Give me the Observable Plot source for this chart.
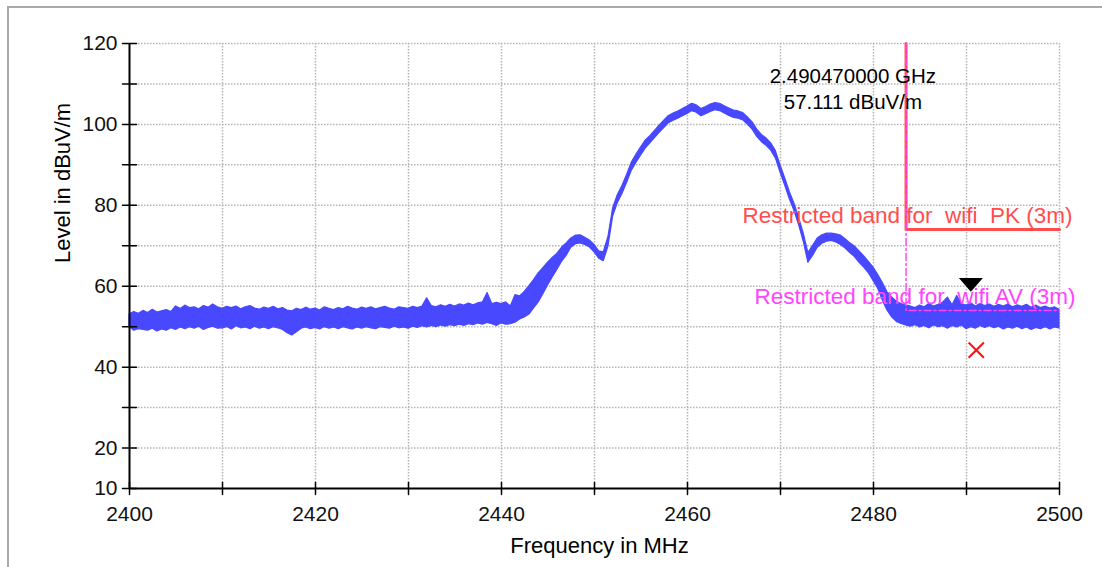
<!DOCTYPE html>
<html><head><meta charset="utf-8">
<script src="https://cdn.jsdelivr.net/npm/d3@7"></script>
<script src="https://cdn.jsdelivr.net/npm/@observablehq/plot@0.6"></script>
<style>
html,body{margin:0;padding:0;background:#fff;}
#wrap{position:relative;width:1102px;height:567px;overflow:hidden;}
#frame{position:absolute;left:7px;top:6px;right:-10px;bottom:-10px;border-left:2px solid #a9a9a9;border-top:2px solid #a9a9a9;}
#chart{position:absolute;left:0;top:0;}
svg text{white-space:pre;}
</style></head><body>
<div id="wrap"><div id="frame"></div><div id="chart"></div></div>
<script>
// ---- data ----
const xDomain = [2400, 2500];
const yDomain = [10, 120];
const xTicks = [2400, 2410, 2420, 2430, 2440, 2450, 2460, 2470, 2480, 2490, 2500];
const xTickLabels = [2400, 2420, 2440, 2460, 2480, 2500];
const yTicks = [10, 20, 30, 40, 50, 60, 70, 80, 90, 100, 110, 120];
const yTickLabels = [10, 20, 40, 60, 80, 100, 120];

const freqStart = 2400, freqStep = 0.5;
// lower / upper envelope of the sweep trace (dBuV/m), every 0.5 MHz
const levelLo = [
  50.0, 49.0, 49.4, 49.2, 49.0, 49.5, 48.8, 49.3, 49.0, 49.6, 49.2, 49.8, 49.4, 49.9, 49.5, 50.0, 49.2, 49.7, 50.0, 49.5,
  49.6, 49.9, 49.3, 50.1, 49.6, 49.8, 49.4, 50.0, 49.5, 49.8, 49.4, 49.9, 49.6, 49.2, 48.4, 47.8, 48.6, 49.5, 49.8, 49.4,
  49.7, 49.3, 49.9, 49.5, 49.8, 49.4, 49.9, 49.6, 49.3, 49.8, 49.5, 49.9, 49.6, 49.4, 49.9, 49.7, 49.5, 50.0, 49.6, 49.8,
  49.5, 50.0, 49.7, 50.1, 49.8, 50.2, 49.9, 50.3, 50.0, 50.4, 50.1, 50.5, 50.2, 50.6, 50.4, 50.8, 50.5, 50.9, 50.6, 50.2,
  50.8, 50.5, 50.6, 51.0, 51.8, 52.3, 53.0, 54.5, 56.0, 58.0, 60.2, 62.2, 64.0, 66.0, 67.5, 69.5, 70.4, 70.6, 70.2, 69.6,
  68.4, 66.8, 66.2, 69.8, 77.2, 80.5, 82.8, 85.5, 88.5, 90.5, 92.3, 94.0, 95.3, 96.6, 97.9, 99.1, 100.3, 100.9, 101.4, 102.0,
  102.6, 103.3, 102.9, 102.0, 102.5, 103.1, 103.5, 103.3, 102.7, 102.1, 101.6, 101.4, 101.0, 99.9, 98.7, 96.9, 95.6, 94.7, 93.5, 91.6,
  88.1, 84.9, 81.5, 78.6, 75.1, 71.0, 65.8, 67.5, 69.5, 70.5, 71.0, 71.2, 70.8, 70.2, 69.3, 68.2, 67.2, 65.8, 64.6, 63.2,
  61.3, 59.4, 56.5, 54.0, 52.3, 51.2, 50.7, 50.3, 50.0, 50.4, 49.8, 50.2, 49.6, 50.3, 49.9, 50.1, 49.5, 50.2, 49.8, 50.3,
  49.4, 49.9, 49.5, 50.2, 49.7, 50.1, 49.6, 50.0, 49.3, 49.8, 49.5, 50.0, 49.4, 49.8, 49.2, 49.7, 49.4, 49.9, 49.3, 49.8, 49.6
];
const levelHi = [
  53.0, 53.6, 53.2, 53.9, 53.4, 54.2, 53.5, 53.8, 54.1, 53.6, 55.0, 54.4, 55.2, 54.6, 54.8, 54.3, 55.1, 54.7, 55.5, 54.8,
  54.4, 54.9, 54.6, 55.0, 54.3, 54.8, 55.1, 54.5, 54.2, 54.7, 54.4, 54.9, 54.3, 54.6, 54.0, 53.8, 54.4, 54.1, 54.7, 54.2,
  54.5, 54.0, 54.8, 54.4, 54.1, 54.6, 54.3, 54.9, 54.5, 54.2, 54.7, 54.4, 54.8, 54.3, 54.6, 54.9, 54.5, 54.2, 54.8, 54.6,
  54.4, 54.9, 54.6, 55.0, 57.0, 55.1, 54.8, 55.3, 54.9, 55.4, 55.0, 55.5, 55.2, 55.7, 55.3, 55.8, 56.0, 58.3, 55.6, 55.9,
  55.6, 56.0, 55.0, 57.8, 57.5, 58.6, 60.0, 61.5, 63.2, 64.5, 65.8, 67.0, 68.0, 69.5, 70.6, 71.8, 72.5, 72.6, 72.0, 71.3,
  70.2, 68.6, 68.4, 72.2, 79.2, 82.5, 84.8, 87.5, 90.5, 92.5, 94.3, 96.0, 97.1, 98.4, 99.7, 100.9, 102.1, 102.7, 103.2, 103.8,
  104.4, 105.1, 104.7, 103.8, 104.3, 104.9, 105.3, 105.1, 104.5, 103.9, 103.4, 103.2, 102.8, 101.7, 100.5, 98.7, 97.4, 96.5, 95.3, 93.4,
  89.9, 86.7, 83.3, 80.4, 76.9, 73.0, 68.2, 70.0, 71.8, 72.6, 73.0, 73.0, 72.8, 72.5, 71.6, 70.6, 69.8, 68.6, 67.4, 66.0,
  64.6, 62.8, 60.8, 58.5, 57.2, 56.2, 55.6, 55.2, 55.0, 54.6, 55.2, 54.8, 55.6, 55.0, 55.4, 56.0, 57.2, 55.3, 57.6, 55.6,
  55.2, 55.8, 55.0, 55.6, 55.1, 55.5, 54.9, 55.4, 55.0, 55.5, 54.8, 55.3, 54.9, 55.4, 54.7, 55.2, 54.6, 55.0, 54.5, 54.8, 54.2
];

const bandEdge = 2483.5;   // MHz, start of restricted band
const pkLimit = 74;        // dBuV/m
const avLimit = 54;        // dBuV/m
const markerFreq = 2490.47;   // MHz
const markerLevel = 57.111;   // dBuV/m
const avReadingFreq = 2491.05;
const avReadingLevel = 44.2;

const pkLabel = "Restricted band for  wifi  PK (3m)";
const avLabel = "Restricted band for  wifi AV (3m)";
const xTitle = "Frequency in MHz";
const yTitle = "Level in dBuV/m";

// ---- build ----
const trace = levelLo.map((lo, i) => ({f: freqStart + i * freqStep, lo, hi: levelHi[i]}));
const pkLine = [{f: bandEdge, v: yDomain[1]}, {f: bandEdge, v: pkLimit}, {f: xDomain[1], v: pkLimit}];
const avLine = [{f: bandEdge, v: yDomain[1]}, {f: bandEdge, v: avLimit}, {f: xDomain[1], v: avLimit}];
const markerText = `${(markerFreq / 1000).toFixed(9)} GHz\n${markerLevel.toFixed(3)} dBuV/m`;

const BLUE = "#4848ff", RED = "#ff4d4d", MAG = "#ff44ff", GRID = "#b4b4b4";
const tickShape = {draw(context, l) { context.moveTo(0, 0); context.lineTo(0, -l); }};
const downTriangle = {draw(context, size) {
  const r = Math.sqrt(size / Math.PI);
  context.moveTo(-r, -r * 0.58); context.lineTo(r, -r * 0.58); context.lineTo(0, r * 0.58); context.closePath();
}};

const chart = Plot.plot({
  width: 1102, height: 567,
  marginTop: 43, marginRight: 43, marginBottom: 79, marginLeft: 129,
  style: {fontFamily: "'Liberation Sans', Arial, sans-serif", color: "black", background: "transparent", overflow: "visible"},
  x: {domain: xDomain, label: null},
  y: {domain: yDomain, label: null},
  r: {type: "identity"},
  marks: [
    Plot.ruleY(yTicks.filter(d => d !== yDomain[0]), {y: d => d, stroke: GRID, strokeWidth: 1.5, strokeDasharray: "1.5,1.5"}),
    Plot.ruleX(xTicks.filter(d => d !== xDomain[0]), {x: d => d, stroke: GRID, strokeWidth: 1.5, strokeDasharray: "1.5,1.5"}),
    Plot.line(pkLine, {x: "f", y: "v", stroke: RED, strokeWidth: 3}),
    Plot.areaY(trace, {x: "f", y1: "lo", y2: "hi", fill: BLUE, stroke: BLUE, strokeWidth: 1.2, curve: "linear"}),
    Plot.line(avLine, {x: "f", y: "v", stroke: MAG, strokeWidth: 1.5, strokeDasharray: "7,3,2,3"}),
    Plot.text([pkLabel], {x: xDomain[1], y: pkLimit, text: d => d, textAnchor: "end", dx: 13, dy: -14, fill: RED, fontSize: 22.5}),
    Plot.text([avLabel], {x: xDomain[1], y: avLimit, text: d => d, textAnchor: "end", dx: 16, dy: -14, fill: MAG, fontSize: 22.5}),
    Plot.text([markerText], {x: markerFreq, y: yDomain[1], text: d => d, dx: -118, dy: 44, fontSize: 20.5, lineHeight: 1.27, fill: "black"}),
    Plot.dot([markerLevel], {x: markerFreq, y: d => d, symbol: downTriangle, r: 12, fill: "black", stroke: null, dy: -13}),
    Plot.dot([avReadingLevel], {x: avReadingFreq, y: d => d, symbol: "times", r: 7, stroke: "#ff1010", strokeWidth: 2}),
    // axes
    Plot.ruleY([yDomain[0]], {y: d => d, stroke: "black", strokeWidth: 2}),
    Plot.ruleX([xDomain[0]], {x: d => d, stroke: "black", strokeWidth: 2}),
    Plot.vector(xTicks, {x: d => d, y: yDomain[0], length: 12, anchor: "middle", rotate: 0, shape: tickShape, stroke: "black", strokeWidth: 1.5}),
    Plot.vector(yTicks, {x: xDomain[0], y: d => d, length: 14, anchor: "middle", rotate: 90, shape: tickShape, stroke: "black", strokeWidth: 1.5}),
    Plot.axisX(xTicks, {tickSize: 0, tickPadding: 18, tickFormat: d => xTickLabels.includes(d) ? String(d) : "", fontSize: 21, fill: "#111"}),
    Plot.axisY(yTicks, {tickSize: 0, tickPadding: 12, tickFormat: d => yTickLabels.includes(d) ? String(d) : "", fontSize: 21, fill: "#111"}),
    Plot.text([xTitle], {frameAnchor: "bottom", text: d => d, dy: 64, dx: 5, fontSize: 22, fill: "black"}),
    Plot.text([yTitle], {frameAnchor: "left", text: d => d, rotate: -90, dx: -67, dy: -3, fontSize: 22, fill: "black"})
  ]
});
document.getElementById("chart").appendChild(chart);
</script></body></html>
